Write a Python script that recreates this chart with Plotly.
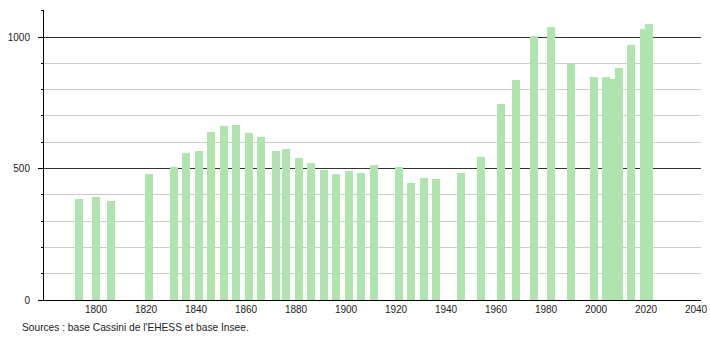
import plotly.graph_objects as go

years = [1793, 1800, 1806, 1821, 1831, 1836, 1841, 1846, 1851, 1856,
         1861, 1866, 1872, 1876, 1881, 1886, 1891, 1896, 1901, 1906,
         1911, 1921, 1926, 1931, 1936, 1946, 1954, 1962, 1968, 1975,
         1982, 1990, 1999, 2004, 2007, 2009, 2014, 2019, 2021]
population = [384, 393, 378, 480, 506, 559, 567, 639, 662, 665,
              635, 621, 565, 574, 541, 520, 494, 480, 490, 484,
              515, 506, 445, 464, 460, 483, 544, 746, 837, 1005,
              1038, 899, 847, 847, 840, 881, 970, 1029, 1049]
x_ticks = [1800, 1820, 1840, 1860, 1880, 1900, 1920, 1940, 1960, 1980, 2000, 2020, 2040]
y_ticks = [0, 500, 1000]
source_text = "Sources : base Cassini de l'EHESS et base Insee."

fig = go.Figure()
fig.add_trace(go.Bar(
    x=years, y=population, width=3.2,
    marker=dict(color="#b0e4af", line=dict(width=0)),
    hoverinfo="x+y",
))

font = dict(family="Liberation Sans, Arial, sans-serif", size=10, color="#222")

fig.update_layout(
    width=710, height=340,
    margin=dict(l=44, r=9, t=10, b=40),
    paper_bgcolor="white", plot_bgcolor="white",
    showlegend=False,
    font=font,
    bargap=0,
    xaxis=dict(
        range=[1779.2, 2042], tickmode="array", tickvals=x_ticks,
        ticks="", showgrid=False, zeroline=False, automargin=False,
        showline=True, linecolor="#000", linewidth=1,
        tickfont=font,
    ),
    yaxis=dict(
        range=[0, 1103], tickmode="array", tickvals=y_ticks,
        ticks="outside", ticklen=5, tickcolor="#000", automargin=False,
        showgrid=True, gridcolor="#333", gridwidth=1,
        zeroline=False, showline=True, linecolor="#000", linewidth=1,
        ticklabelstandoff=6,
        tickfont=font,
        minor=dict(dtick=100, tick0=0, ticks="outside", ticklen=2, tickcolor="#000",
                   showgrid=True, gridcolor="#cccccc", gridwidth=1),
    ),
    annotations=[dict(
        text=source_text, xref="paper", yref="paper",
        x=-0.036, y=-0.095, xanchor="left", yanchor="middle",
        showarrow=False, font=dict(family="Liberation Sans, Arial, sans-serif", size=10.2, color="#222"),
    )],
)

fig.write_html("out.html")
